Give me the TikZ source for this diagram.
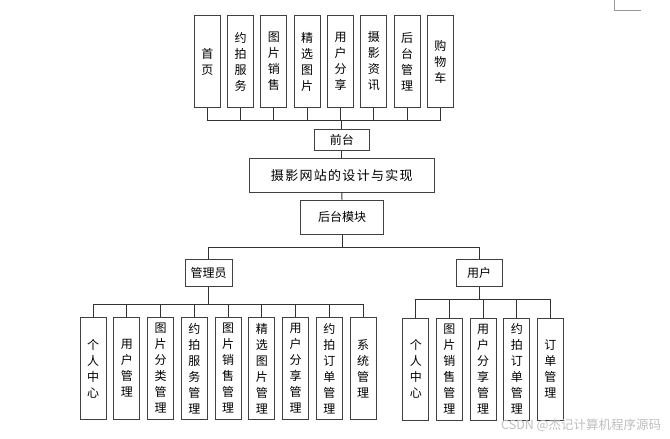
\documentclass[tikz,border=0pt]{standalone}
\usepackage{fontspec}
\newfontfamily\cjk{Noto Sans CJK SC}
\begin{document}
\begin{tikzpicture}[x=1pt,y=-1pt,
  box/.style={draw=black!75,line width=1pt,fill=white,inner sep=0pt,align=center,font=\cjk\fontsize{12}{16}\selectfont},
  vbox/.style={box,minimum width=26pt,minimum height=#1},
  link/.style={draw=black!80,line width=1pt}]
\useasboundingbox (0,0) rectangle (670,439);
\fill[white] (0,0) rectangle (670,439);
\draw[black!40,line width=0.8pt] (614.3,0) -- (614.3,10) -- (640.7,10);
% top level
\foreach \t [count=\i from 0] in {首\\页,约\\拍\\服\\务,图\\片\\销\\售,精\\选\\图\\片,用\\户\\分\\享,摄\\影\\资\\讯,后\\台\\管\\理,购\\物\\车}{
  \node[vbox=92pt] (t\i) at ({207.3+33.3*\i},61.5) {\t};
}
\node[box,minimum width=55pt,minimum height=21.4pt] (front) at (341.8,140) {前台};
\node[box,minimum width=185pt,minimum height=34pt,font=\cjk\fontsize{13}{16}\selectfont] (title) at (341.8,175.7) {摄\kern1.3pt 影\kern1.3pt 网\kern1.3pt 站\kern1.3pt 的\kern1.3pt 设\kern1.3pt 计\kern1.3pt 与\kern1.3pt 实\kern1.3pt 现};
\node[box,minimum width=82.3pt,minimum height=34.3pt] (back) at (342,217.2) {后台模块};
\node[box,minimum width=47.3pt,minimum height=26.7pt] (admin) at (208.7,273.3) {管理员};
\node[box,minimum width=46.3pt,minimum height=26.7pt] (user) at (479.2,273.3) {用户};
\foreach \t [count=\i from 0] in {个\\人\\中\\心,用\\户\\管\\理,图\\片\\分\\类\\管\\理,约\\拍\\服\\务\\管\\理,图\\片\\销\\售\\管\\理,精\\选\\图\\片\\管\\理,用\\户\\分\\享\\管\\理,约\\拍\\订\\单\\管\\理,系\\统\\管\\理}{
  \node[vbox=101.6pt] (a\i) at ({93+33.75*\i},368.5) {\t};
}
\foreach \t [count=\i from 0] in {个\\人\\中\\心,图\\片\\销\\售\\管\\理,用\\户\\分\\享\\管\\理,约\\拍\\订\\单\\管\\理,订\\单\\管\\理}{
  \node[vbox=101.7pt] (u\i) at ({415.8+33.65*\i},369.2) {\t};
}
% connectors
\coordinate (fb) at (341.8,120);
\foreach \i in {0,...,7}{ \draw[link] (t\i.south) |- (fb); }
\draw[link] (fb) -- (front.north);
\draw[link] (front.south) -- (title.north);
\draw[link] (title.south) -- (back.north);
\coordinate (bb) at (342,247);
\draw[link] (back.south) -- (bb);
\draw[link] (admin.north) |- (bb);
\draw[link] (user.north) |- (bb);
\coordinate (ab) at (208.7,304.3);
\draw[link] (admin.south) -- (ab);
\foreach \i in {0,...,8}{ \draw[link] (a\i.north) |- (ab); }
\coordinate (ub) at (479.2,299);
\draw[link] (user.south) -- (ub);
\foreach \i in {0,...,4}{ \draw[link] (u\i.north) |- (ub); }
\node[text=black!25,font=\cjk\fontsize{12.5}{14}\selectfont,anchor=west,inner sep=0pt] (wm) at (501,425) {CSDN @杰记计算机程序源码};
\end{tikzpicture}
\end{document}
